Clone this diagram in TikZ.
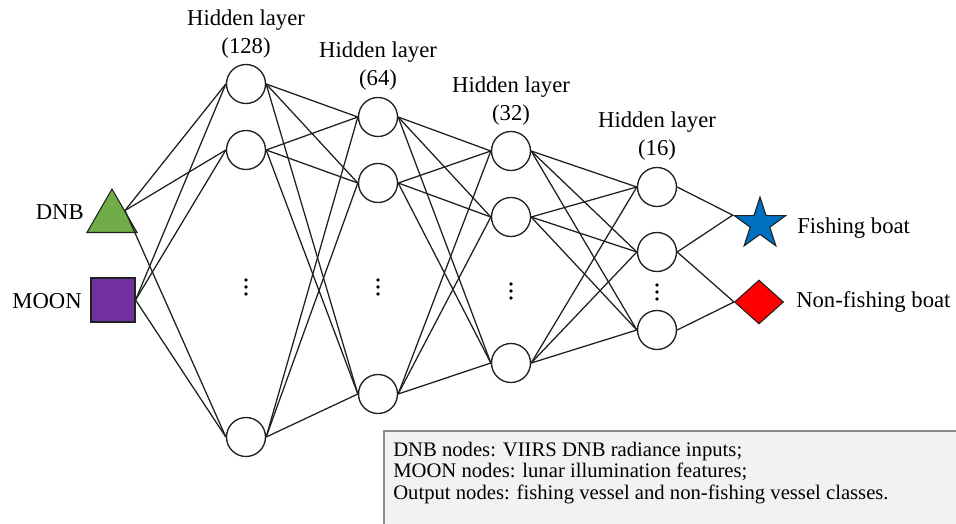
\documentclass[tikz,border=0pt]{standalone}
\usepackage{fontspec}
\setmainfont{Liberation Serif}
\usetikzlibrary{shapes.geometric}
\definecolor{edgec}{HTML}{202020}
\definecolor{dnbgreen}{HTML}{70AD47}
\definecolor{moonpurple}{HTML}{7030A0}
\definecolor{starblue}{HTML}{0070C0}
\definecolor{boxfill}{HTML}{F2F2F2}
\definecolor{boxline}{HTML}{8C8C8C}
\begin{document}
\begin{tikzpicture}[x=0.75pt,y=-0.75pt,
  neuron/.style={circle,draw=edgec,line width=1pt,fill=white,minimum size=29.25pt,inner sep=0pt},
  conn/.style={draw=edgec,line width=0.95pt},
  lbl/.style={font=\fontsize{17}{21}\selectfont,inner sep=0pt},
  hdr/.style={font=\fontsize{17}{21}\selectfont,align=center,inner sep=0pt},
  dotc/.style={fill=black,draw=none},
]
\useasboundingbox (0,0) rectangle (956,524);
\fill[white] (0,0) rectangle (956,524);

% legend box
\fill[boxfill] (384,431) rectangle (956,524);
\draw[boxline,line width=0.8pt] (384,524) -- (384,431) -- (956,431);
\node[anchor=west,align=left,inner sep=0pt,font=\fontsize{15.5}{16.1}\selectfont] (legend) at (393,473)
  {DNB nodes: VIIRS DNB radiance inputs;\\MOON nodes: lunar illumination features;\\Output nodes: fishing vessel and non-fishing vessel classes.};

% inputs
\node[regular polygon,regular polygon sides=3,minimum size=43.4pt,inner sep=0pt,fill=dnbgreen,draw=edgec,line width=0.8pt] (dnb) at (112,218) {};
\node[rectangle,minimum size=33pt,inner sep=0pt,fill=moonpurple,draw=edgec,line width=0.8pt] (moon) at (113,300) {};
\node[lbl,anchor=east] (dnbl) at (84,212) {DNB};
\node[lbl,anchor=east] (moonl) at (82,301) {MOON};

% hidden layers
\node[neuron] (a1) at (246,84) {};
\node[neuron] (a2) at (246,150) {};
\node[neuron] (a3) at (246,437) {};
\node[neuron] (b1) at (378,117) {};
\node[neuron] (b2) at (378,183) {};
\node[neuron] (b3) at (378,394) {};
\node[neuron] (c1) at (511,151) {};
\node[neuron] (c2) at (511,217) {};
\node[neuron] (c3) at (511,363) {};
\node[neuron] (d1) at (657,187) {};
\node[neuron] (d2) at (657,252) {};
\node[neuron] (d3) at (657,330) {};

% outputs
\node[star,star points=5,star point ratio=2.618,minimum size=40.5pt,inner sep=0pt,fill=starblue,draw=edgec,line width=0.8pt] (fish) at (760,224) {};
\node[diamond,minimum width=36.75pt,minimum height=33pt,inner sep=0pt,fill=red,draw=edgec,line width=0.8pt] (nfish) at (759,302) {};
\node[lbl,anchor=west] (fishl) at (797,228) {Fishing boat};
\node[lbl,anchor=west] (nfishl) at (796,302) {Non-fishing boat};

% headers
\node[hdr] (h1) at (246,34) {Hidden layer\\(128)};
\node[hdr] (h2) at (378,66) {Hidden layer\\(64)};
\node[hdr] (h3) at (511,101) {Hidden layer\\(32)};
\node[hdr] (h4) at (657,136) {Hidden layer\\(16)};

% dots
\foreach \n/\x/\y in {da/246/287,db/378/287,dc/511/291,dd/657/292}{
  \coordinate (\n) at (\x,\y);
  \fill[dotc] ([yshift=5.25pt]\n) circle (1.4pt);
  \fill[dotc] (\n) circle (1.4pt);
  \fill[dotc] ([yshift=-5.25pt]\n) circle (1.4pt);
}

% connections
\foreach \t in {a1,a2,a3}{
  \draw[conn] (dnb.side 3) -- (\t.west);
  \draw[conn] (moon.east) -- (\t.west);
}
\foreach \s in {a1,a2,a3}{\foreach \t in {b1,b2,b3}{\draw[conn] (\s.east) -- (\t.west);}}
\foreach \s in {b1,b2,b3}{\foreach \t in {c1,c2,c3}{\draw[conn] (\s.east) -- (\t.west);}}
\foreach \s in {c1,c2,c3}{\foreach \t in {d1,d2,d3}{\draw[conn] (\s.east) -- (\t.west);}}
\draw[conn] (d1.east) -- (fish.outer point 2);
\draw[conn] (d2.east) -- (fish.outer point 2);
\draw[conn] (d2.east) -- (nfish.west);
\draw[conn] (d3.east) -- (nfish.west);
\end{tikzpicture}
\end{document}
